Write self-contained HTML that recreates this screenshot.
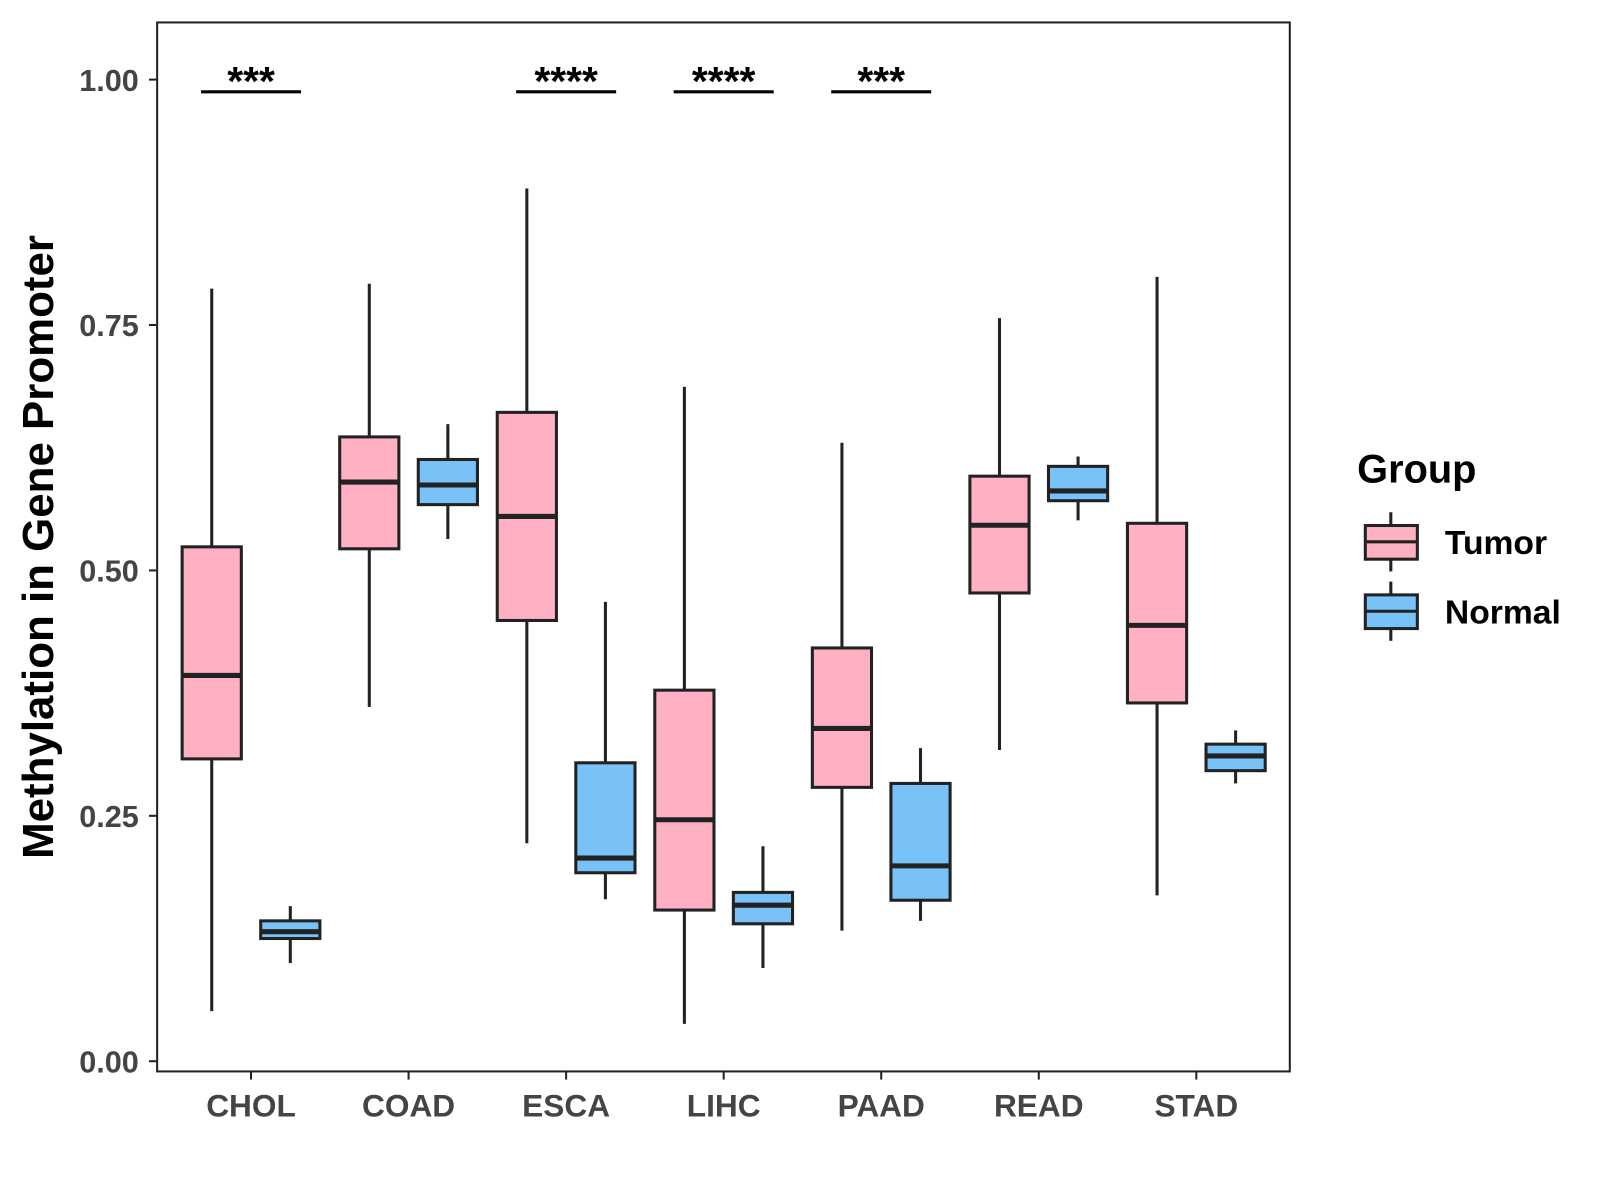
<!DOCTYPE html>
<html><head><meta charset="utf-8"><style>body{margin:0;background:#fff}svg{display:block}text{font-family:"Liberation Sans",sans-serif;font-weight:bold}</style></head>
<body>
<svg id="chart" width="1600" height="1200" viewBox="0 0 1568 1176" xmlns="http://www.w3.org/2000/svg">
<rect x="154" y="22" width="1110" height="1028" fill="none" stroke="#222" stroke-width="2"/>
<g id="marks"></g>
<text x="52" y="536" transform="rotate(-90 52 536)" text-anchor="middle" font-size="43" fill="#000">Methylation in Gene Promoter</text>
<g>
<text x="1330" y="473" font-size="39" fill="#000">Group</text>
<g>
<line x1="1363" y1="502" x2="1363" y2="560" stroke="#222" stroke-width="3"/>
<rect x="1338" y="515" width="51" height="33" fill="#FFB0C2" stroke="#222" stroke-width="3"/>
<line x1="1338" y1="531" x2="1389" y2="531" stroke="#222" stroke-width="3"/>
<text x="1416" y="543" font-size="33" fill="#000">Tumor</text></g>
<g>
<line x1="1363" y1="570" x2="1363" y2="628" stroke="#222" stroke-width="3"/>
<rect x="1338" y="583" width="51" height="33" fill="#79C2F8" stroke="#222" stroke-width="3"/>
<line x1="1338" y1="599" x2="1389" y2="599" stroke="#222" stroke-width="3"/>
<text x="1416" y="611" font-size="33" fill="#000">Normal</text></g>
</g>
</svg>
<script>
const categories=["CHOL","COAD","ESCA","LIHC","PAAD","READ","STAD"];
// [min, q1, median, q3, max]
const tumor=[[0.051,0.308,0.393,0.524,0.787],[0.361,0.522,0.590,0.636,0.792],[0.222,0.449,0.555,0.661,0.889],[0.038,0.154,0.246,0.378,0.687],[0.133,0.279,0.339,0.421,0.630],[0.317,0.477,0.546,0.596,0.757],[0.169,0.365,0.444,0.548,0.799]];
const normal=[[0.100,0.125,0.132,0.143,0.158],[0.532,0.567,0.587,0.613,0.649],[0.165,0.192,0.207,0.304,0.468],[0.095,0.140,0.159,0.172,0.219],[0.143,0.164,0.199,0.283,0.319],[0.551,0.571,0.581,0.606,0.616],[0.283,0.296,0.311,0.323,0.337]];
const yTicks=[0,0.25,0.5,0.75,1.0];
const yTickLabels=["0.00","0.25","0.50","0.75","1.00"];
const sigLabels=["***","","****","****","***","",""];
const NS="http://www.w3.org/2000/svg";
const y=v=>1040-v*962;
const x=i=>246+i*154.4;
const g=document.getElementById("marks");
function mk(t,a,p){const e=document.createElementNS(NS,t);for(const k in a)e.setAttribute(k,a[k]);(p||g).appendChild(e);return e;}
yTicks.forEach((t,i)=>{
 const l=mk("line",{x1:146,x2:154,y1:y(t),y2:y(t),stroke:"#222","stroke-width":2});
 
 
 const tx=mk("text",{x:136,y:y(t)+11,"text-anchor":"end","font-size":30,fill:"#444"});
 tx.textContent=yTickLabels[i];
 
 
});
function box(cx,d,fill,name){
 const gg=mk("g",{});
 
 
 mk("line",{x1:cx,x2:cx,y1:y(d[0]),y2:y(d[4]),stroke:"#222","stroke-width":3},gg);
 mk("rect",{x:cx-29,y:y(d[3]),width:58,height:y(d[1])-y(d[3]),fill:fill,stroke:"#222","stroke-width":3},gg);
 mk("line",{x1:cx-29,x2:cx+29,y1:y(d[2]),y2:y(d[2]),stroke:"#222","stroke-width":5},gg);
}
categories.forEach((c,i)=>{
 box(x(i)-38.5,tumor[i],"#FFB0C2","box-tumor-"+c.toLowerCase());
 box(x(i)+38.5,normal[i],"#79C2F8","box-normal-"+c.toLowerCase());
 const t=mk("line",{x1:x(i),x2:x(i),y1:1050,y2:1058,stroke:"#222","stroke-width":2});
 
 
 const tx=mk("text",{x:x(i),y:1094,"text-anchor":"middle","font-size":31,fill:"#444"});
 tx.textContent=c;
 
 
 if(sigLabels[i]){
  const b=mk("line",{x1:x(i)-49,x2:x(i)+49,y1:90,y2:90,stroke:"#000","stroke-width":3});
  
  
  const s=mk("text",{x:x(i),y:93,"text-anchor":"middle","font-size":40,fill:"#000"});
  s.textContent=sigLabels[i];
  
  
 }
});
</script>
</body></html>
